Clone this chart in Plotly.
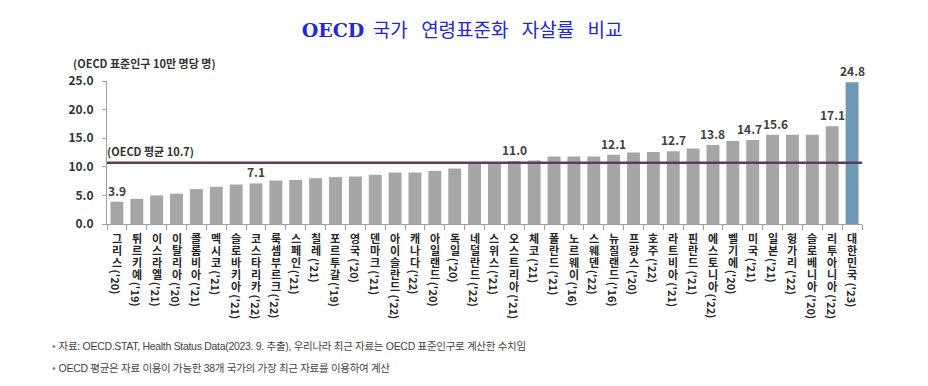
import plotly.graph_objects as go

countries = ["그리스", "튀르키예", "이스라엘", "이탈리아", "콜롬비아", "멕시코", "슬로바키아",
             "코스타리카", "룩셈부르크", "스페인", "칠레", "포르투갈", "영국", "덴마크", "아이슬란드",
             "캐나다", "아일랜드", "독일", "네덜란드", "스위스", "오스트리아", "체코", "폴란드",
             "노르웨이", "스웨덴", "뉴질랜드", "프랑스", "호주", "라트비아", "핀란드", "에스토니아",
             "벨기에", "미국", "일본", "헝가리", "슬로베니아", "리투아니아", "대한민국"]
years = ["'20", "'19", "'21", "'20", "'21", "'21", "'21", "'22", "'22", "'21", "'21", "'19",
         "'20", "'21", "'22", "'22", "'20", "'20", "'22", "'21", "'21", "'21", "'21", "'16",
         "'22", "'16", "'20", "'22", "'21", "'21", "'22", "'20", "'21", "'21", "'22", "'20",
         "'22", "'23"]
rates = [3.9, 4.4, 5.0, 5.3, 6.1, 6.5, 6.9, 7.1, 7.6, 7.7, 8.0, 8.2, 8.3, 8.6, 9.0, 9.0,
         9.3, 9.7, 10.5, 10.7, 11.0, 11.1, 11.8, 11.8, 11.8, 12.1, 12.5, 12.6, 12.7, 13.2,
         13.8, 14.5, 14.7, 15.6, 15.6, 15.6, 17.1, 24.8]
labeled = ["그리스", "코스타리카", "오스트리아", "뉴질랜드", "라트비아", "에스토니아",
           "미국", "일본", "리투아니아", "대한민국"]
oecd_avg = 10.7
yticks = [0, 5, 10, 15, 20, 25]

title_words = ["국가", "연령표준화", "자살률", "비교"]
y_unit = "(OECD 표준인구 10만 명당 명)"
avg_label = "(OECD 평균 10.7)"
notes = ["자료: OECD.STAT, Health Status Data(2023. 9. 추출), 우리나라 최근 자료는 OECD 표준인구로 계산한 수치임",
         "OECD 평균은 자료 이용이 가능한 38개 국가의 가장 최근 자료를 이용하여 계산"]

KR = "Noto Sans CJK KR"
GRAY = "#a6a6a6"
KOREA = "#7099b7"
DARK = "#333333"

colors = [KOREA if c == "대한민국" else GRAY for c in countries]

fig = go.Figure()
fig.add_trace(go.Bar(x=countries, y=rates, marker=dict(color=colors, line=dict(width=0)),
                     hoverinfo="skip", width=0.65))

annotations = []
# value labels
shifts = {"미국": -3, "일본": 3}
for c, v in zip(countries, rates):
    if c in labeled:
        annotations.append(dict(x=c, y=v, xref="x", yref="y", text=f"<b>{v:.1f}</b>",
                                showarrow=False, yanchor="bottom", yshift=1,
                                xshift=shifts.get(c, 0),
                                font=dict(family=KR, size=12, color="#404040")))

# vertical category labels: stacked Korean characters + rotated year part
PITCH = 12
for c, yr in zip(countries, years):
    for k, ch in enumerate(c):
        annotations.append(dict(x=c, y=0, xref="x", yref="paper", text=f"<b>{ch}</b>",
                                showarrow=False, yanchor="middle", xanchor="center",
                                yshift=-14 - PITCH * k, borderpad=0,
                                font=dict(family=KR, size=11, color="#262626")))
    n = len(c)
    annotations.append(dict(x=c, y=0, xref="x", yref="paper", text=f"<b>({yr})</b>",
                            showarrow=False, textangle=90, yanchor="top", xanchor="center",
                            yshift=-14 - PITCH * (n - 1) - 6,
                            font=dict(family=KR, size=11, color="#262626")))

# average label
annotations.append(dict(x=0, y=oecd_avg, xref="paper", yref="y", text=f"<b>{avg_label}</b>",
                        showarrow=False, xanchor="left", yanchor="bottom", yshift=2, xshift=-2,
                        font=dict(family=KR, size=11, color=DARK)))
# unit label
annotations.append(dict(x=0, y=1, xref="paper", yref="paper", text=f"<b>{y_unit}</b>",
                        showarrow=False, xanchor="left", yanchor="middle",
                        xshift=-36, yshift=18,
                        font=dict(family=KR, size=11, color=DARK)))
# footnotes
for i, t in enumerate(notes):
    annotations.append(dict(x=0, y=0, xref="paper", yref="paper",
                            text=f"<span style='color:#888888'>•</span> <span style='letter-spacing:-0.3px'>{t}</span>",
                            showarrow=False, xanchor="left", yanchor="middle",
                            xshift=-57, yshift=-122 - 22 * i,
                            font=dict(family="Liberation Sans, " + KR, size=10.5, color="#444444")))

fig.add_shape(type="line", xref="paper", yref="y", x0=0, x1=1, y0=oecd_avg, y1=oecd_avg,
              line=dict(color="#5c3c5e", width=2.5))

title_text = ("<span style='font-family:DejaVu Serif;font-size:19px'><b>OECD</b></span>\u00a0\u00a0"
              + "\u2002\u2009".join(title_words))

fig.update_layout(
    width=928, height=386,
    margin=dict(l=107, r=66, t=81, b=162),
    paper_bgcolor="white", plot_bgcolor="white",
    showlegend=False,
    title=dict(text=title_text,
               x=0.498, xref="container", xanchor="center", y=1 - 30 / 386, yanchor="middle",
               font=dict(family=KR, size=19, color="#2424dc")),
    annotations=annotations,
    bargap=0.35,
)
fig.update_xaxes(type="category", showticklabels=False, showline=True, linecolor="#a0a0a0",
                 linewidth=1, ticks="outside", tickson="boundaries", ticklen=5,
                 tickcolor="#a0a0a0", range=[-0.5, len(countries) - 0.5], showgrid=False,
                 zeroline=False)
fig.update_yaxes(range=[0, 25], tickvals=yticks, ticktext=[f"<b>{v:.1f}</b>" for v in yticks],
                 showline=True, linecolor="#a0a0a0", linewidth=1, ticks="outside", ticklen=4,
                 tickcolor="#a0a0a0", showgrid=False, zeroline=False,
                 tickfont=dict(family=KR, size=12, color=DARK), ticklabelstandoff=6)

fig.write_html("out.html", config={"displayModeBar": False},
               post_script="document.body.style.margin='0px';")
